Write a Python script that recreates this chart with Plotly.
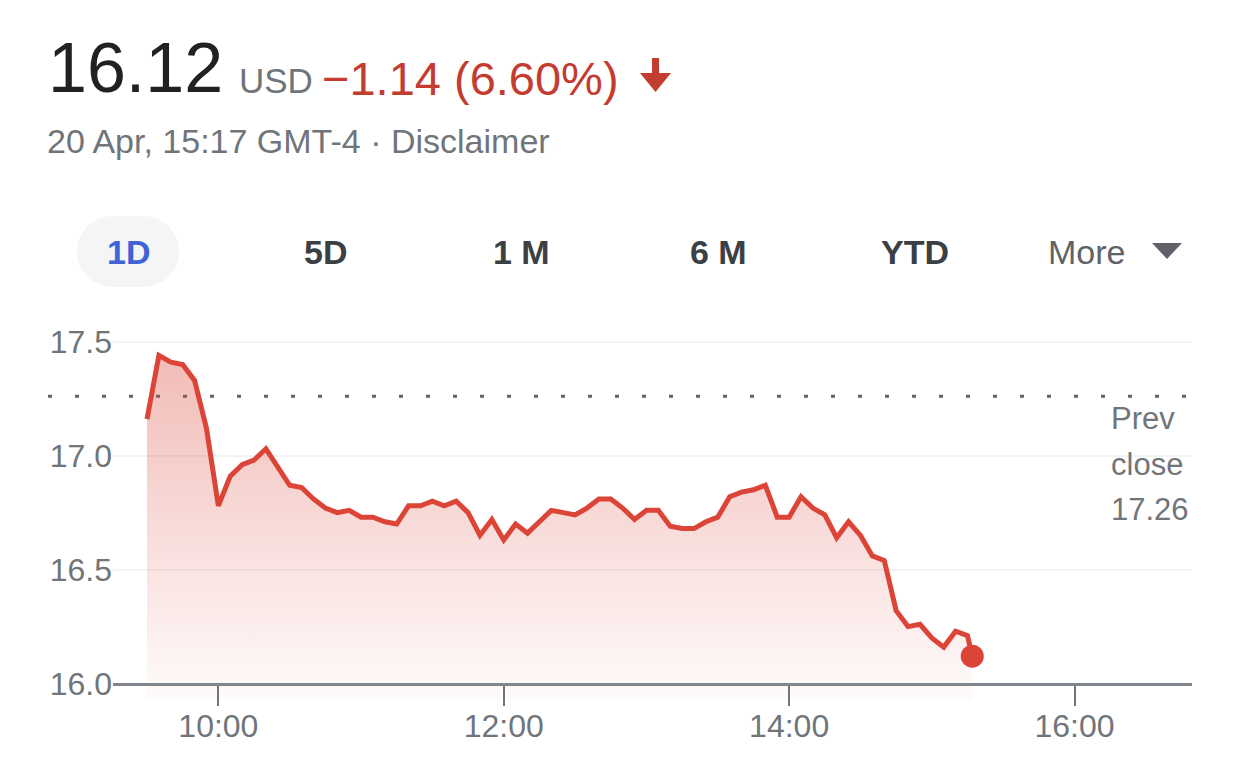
import pandas as pd
import plotly.graph_objects as go

# ---------------- data ----------------
DAY = "2023-04-20"
times = list(pd.date_range(f"{DAY} 09:30", f"{DAY} 15:15", freq="5min")) + [pd.Timestamp(f"{DAY} 15:17")]
prices = [17.16, 17.44, 17.41, 17.40, 17.33, 17.12, 16.78, 16.91, 16.96, 16.98,
          17.03, 16.95, 16.87, 16.86, 16.81, 16.77, 16.75, 16.76, 16.73, 16.73,
          16.71, 16.70, 16.78, 16.78, 16.80, 16.78, 16.80, 16.75, 16.65, 16.72,
          16.63, 16.70, 16.66, 16.71, 16.76, 16.75, 16.74, 16.77, 16.81, 16.81,
          16.77, 16.72, 16.76, 16.76, 16.69, 16.68, 16.68, 16.71, 16.73, 16.82,
          16.84, 16.85, 16.87, 16.73, 16.73, 16.82, 16.77, 16.74, 16.64, 16.71,
          16.65, 16.56, 16.54, 16.32, 16.25, 16.26, 16.20, 16.16, 16.23, 16.21,
          16.12]
prev_close = 17.26
last_price = "16.12"
currency = "USD"
change_text = "\u22121.14 (6.60%)"
date_text = "20 Apr, 15:17 GMT-4 \u00b7 Disclaimer"
tabs = ["1D", "5D", "1 M", "6 M", "YTD"]
y_ticks = [16.0, 16.5, 17.0, 17.5]
y_ticktext = ["16.0", "16.5", "17.0", "17.5"]
x_ticks = [f"{DAY} 10:00", f"{DAY} 12:00", f"{DAY} 14:00", f"{DAY} 16:00"]
x_ticktext = ["10:00", "12:00", "14:00", "16:00"]

# ---------------- layout geometry ----------------
W, H = 1242, 783
L, R, T, B = 113, 50, 320, 83
PW, PH = W - L - R, H - T - B
Y_MIN, Y_MAX = 15.928, 17.595
X_RANGE = [f"{DAY} 09:15:42", f"{DAY} 16:49:24"]


def fx(px):
    return (px - L) / PW


def fy(py):
    return (H - B - py) / PH


RED = "#db4437"
TXT_RED = "#c43b30"
GREY = "#70757a"
FONT = "Liberation Sans, Arial, Helvetica, sans-serif"

fig = go.Figure()

# baseline for the gradient fill
fig.add_trace(go.Scatter(
    x=[times[0], times[-1]], y=[Y_MIN, Y_MIN], mode="lines",
    line=dict(width=0, color="rgba(0,0,0,0)"), showlegend=False, hoverinfo="skip"))

fig.add_trace(go.Scatter(
    x=times, y=prices, mode="lines",
    line=dict(color=RED, width=5),
    fill="tonexty",
    fillgradient=dict(type="vertical",
                      colorscale=[[0, "rgba(219,68,55,0.02)"], [1, "rgba(219,68,55,0.36)"]],
                      start=Y_MIN, stop=max(prices)),
    showlegend=False, hoverinfo="skip"))

fig.add_trace(go.Scatter(
    x=[times[-1]], y=[prices[-1]], mode="markers",
    marker=dict(color=RED, size=23, line=dict(width=0)),
    showlegend=False, hoverinfo="skip"))

shapes = []
# previous close dotted line
shapes.append(dict(type="line", xref="paper", yref="y", x0=fx(48), x1=1.0,
                   y0=prev_close, y1=prev_close, layer="between",
                   line=dict(color="#5f6368", width=3, dash="4px,23px")))
# 1D pill
pill = "#f4f5f7"
shapes.append(dict(type="rect", xref="paper", yref="paper", x0=fx(112), x1=fx(144),
                   y0=fy(287), y1=fy(216), fillcolor=pill, line=dict(width=0), layer="below"))
shapes.append(dict(type="circle", xref="paper", yref="paper", x0=fx(77), x1=fx(148),
                   y0=fy(287), y1=fy(216), fillcolor=pill, line=dict(width=0), layer="below"))
shapes.append(dict(type="circle", xref="paper", yref="paper", x0=fx(108), x1=fx(179),
                   y0=fy(287), y1=fy(216), fillcolor=pill, line=dict(width=0), layer="below"))
# down arrow
arrow = (f"M{fx(652)},{fy(58)} L{fx(659)},{fy(58)} L{fx(659)},{fy(73)} L{fx(671)},{fy(73)} "
         f"L{fx(655.5)},{fy(92)} L{fx(640)},{fy(73)} L{fx(652)},{fy(73)} Z")
shapes.append(dict(type="path", xref="paper", yref="paper", path=arrow,
                   fillcolor=TXT_RED, line=dict(width=0)))
# More triangle
tri = f"M{fx(1152)},{fy(243)} L{fx(1182)},{fy(243)} L{fx(1167)},{fy(259)} Z"
shapes.append(dict(type="path", xref="paper", yref="paper", path=tri,
                   fillcolor="#5f6368", line=dict(width=0)))

ann = []


def text(s, x, y, size, color, xanchor="left", weight="normal"):
    ann.append(dict(text=s, xref="paper", yref="paper", x=fx(x), y=fy(y),
                    xanchor=xanchor, yanchor="middle", showarrow=False,
                    font=dict(family=FONT, size=size, color=color, weight=weight)))


text(last_price, 46, 68, 70, "#202124")
text(currency, 237, 80, 35, GREY)
text(change_text, 320, 78, 47, TXT_RED)
text(date_text, 45, 141, 34, GREY)
tab_centers = [128, 325, 521, 718, 915]
for t, cx in zip(tabs, tab_centers):
    text(t, cx, 252, 34, "#3d63d6" if t == "1D" else "#3c4043", xanchor="center", weight="bold")
text("More", 1086, 252, 34, "#5f6368", xanchor="center")
text("Prev", 1109, 418, 31, GREY)
text("close", 1109, 464, 31, GREY)
text(f"{prev_close:.2f}", 1109, 509, 31, GREY)

fig.update_layout(
    width=W, height=H,
    margin=dict(l=L, r=R, t=T, b=B, pad=0),
    paper_bgcolor="white", plot_bgcolor="white",
    shapes=shapes, annotations=ann,
    showlegend=False,
    font=dict(family=FONT, color=GREY),
    xaxis=dict(type="date", range=X_RANGE, tickvals=x_ticks, ticktext=x_ticktext,
               ticks="outside", ticklen=20, tickwidth=2, tickcolor=GREY,
               ticklabelstandoff=-7,
               showline=True, linecolor="#80868b", linewidth=3,
               showgrid=False, zeroline=False,
               anchor="free", position=(y_ticks[0] - Y_MIN) / (Y_MAX - Y_MIN),
               tickfont=dict(size=32, color=GREY, family=FONT), fixedrange=True),
    yaxis=dict(range=[Y_MIN, Y_MAX], tickvals=y_ticks, ticktext=y_ticktext,
               showgrid=True, gridcolor="#f1f3f4", gridwidth=2,
               zeroline=False, showline=False, ticks="",
               tickfont=dict(size=32, color=GREY, family=FONT), fixedrange=True),
)

fig.write_html("out.html", config={"displayModeBar": False},
               post_script="document.body.style.margin='0';")
